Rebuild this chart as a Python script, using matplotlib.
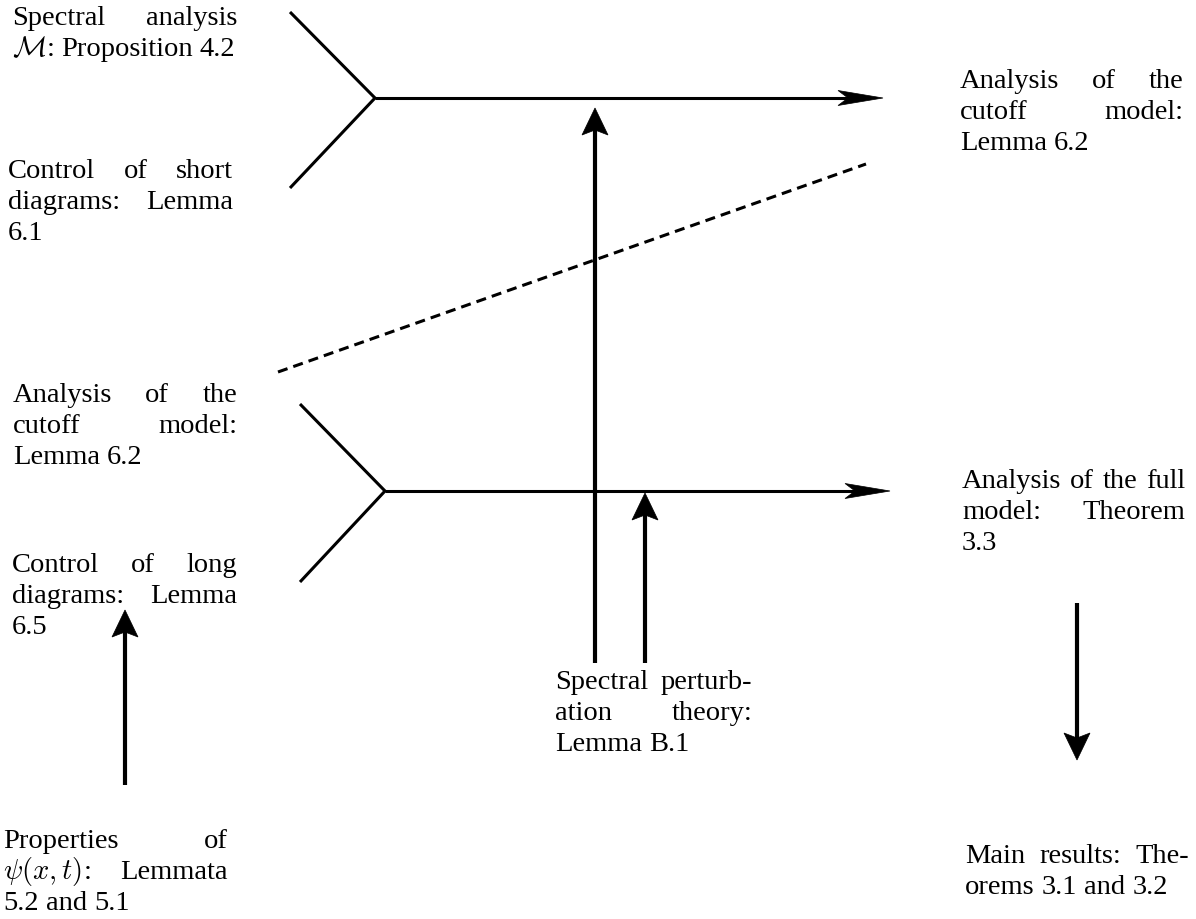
import matplotlib
matplotlib.use('Agg')
import matplotlib.pyplot as plt
from matplotlib.patches import Polygon

plt.rcParams['mathtext.fontset'] = 'cm'
FONT = 'Liberation Serif'
FS = 20.5

# ---------------- content ----------------
label_spectral = [["Spectral", "analysis"], [r"$\mathcal{M}$:", "Proposition", "4.2"]]
label_short = [["Control", "of", "short"], ["diagrams:", "Lemma"], ["6.1"]]
label_cutoff_left = [["Analysis", "of", "the"], ["cutoff", "model:"], ["Lemma", "6.2"]]
label_long = [["Control", "of", "long"], ["diagrams:", "Lemma"], ["6.5"]]
label_psi = [["Properties", "of"], [r"$\psi(x,t)$:", "Lemmata"], ["5.2", "and", "5.1"]]
label_cutoff_right = [["Analysis", "of", "the"], ["cutoff", "model:"], ["Lemma", "6.2"]]
label_full = [["Analysis", "of", "the", "full"], ["model:", "Theorem"], ["3.3"]]
label_main = [["Main", "results:", "The-"], ["orems", "3.1", "and", "3.2"]]
label_perturb = [["Spectral", "perturb-"], ["ation", "theory:"], ["Lemma", "B.1"]]

# ---------------- layout (pixels) ----------------
W, H = 1196, 919
text_layout = [
    (label_spectral, 12, 237, 25),
    (label_short, 8, 233, 178),
    (label_cutoff_left, 13, 237, 402),
    (label_long, 12, 237, 572),
    (label_psi, 3, 228, 848),
    (label_cutoff_right, 960, 1183, 88),
    (label_full, 962, 1185, 488),
    (label_main, 965, 1189, 863),
    (label_perturb, 555, 752, 689),
]
LINE_SKIP = 31

# Y-shaped merges: (upper end, junction, lower end, arrow tip x)
merges = [
    ((290, 12), (375, 98), (290, 188), 883),
    ((300, 404), (385, 491), (300, 582), 890),
]
# vertical arrows: (x, start y, tip y)
v_arrows = [
    (595, 663, 108),
    (645, 663, 493),
    (125, 785, 610),
    (1077, 603, 760),
]
dashed = ((278, 372), (866, 164))

fig = plt.figure(figsize=(W / 100, H / 100), dpi=100)
ax = fig.add_axes([0, 0, 1, 1])
ax.set_xlim(0, W)
ax.set_ylim(H, 0)
ax.axis('off')
renderer = fig.canvas.get_renderer()


def text_width(s):
    t = ax.text(0, 0, s, fontsize=FS, family=FONT)
    w = t.get_window_extent(renderer).width
    t.remove()
    return w


SPACE = text_width("x x") - text_width("xx")


def place_paragraph(lines, x0, x1, y0):
    for i, words in enumerate(lines):
        y = y0 + i * LINE_SKIP
        texts = [ax.text(0, y, w, fontsize=FS, family=FONT, va='baseline', ha='left')
                 for w in words]
        widths = [t.get_window_extent(renderer).width for t in texts]
        justify = i < len(lines) - 1 and len(words) > 1
        gap = (x1 - x0 - sum(widths)) / (len(words) - 1) if justify else SPACE
        x = x0
        for t, w in zip(texts, widths):
            t.set_x(x)
            x += w + gap


for lines, x0, x1, y0 in text_layout:
    place_paragraph(lines, x0, x1, y0)


def arrow_head(tip, direction, length, half_w, notch):
    tx, ty = tip
    dx, dy = direction
    px, py = -dy, dx
    bx, by = tx - dx * length, ty - dy * length
    pts = [
        (tx, ty),
        (bx + px * half_w, by + py * half_w),
        (tx - dx * (length - notch), ty - dy * (length - notch)),
        (bx - px * half_w, by - py * half_w),
    ]
    ax.add_patch(Polygon(pts, closed=True, facecolor='black', edgecolor='black',
                         linewidth=0.5, zorder=3))


LW_THIN = 2.2
LW_THICK = 3.0
for up, junc, low, tipx in merges:
    ax.plot([up[0], junc[0], low[0]], [up[1], junc[1], low[1]], color='black',
            lw=LW_THIN, solid_joinstyle='miter', solid_capstyle='butt')
    ax.plot([junc[0], tipx - 20], [junc[1], junc[1]], color='black', lw=LW_THIN,
            solid_capstyle='butt')
    arrow_head((tipx, junc[1]), (1, 0), 45, 7.5, 10)

for x, y_start, y_tip in v_arrows:
    d = 1 if y_tip > y_start else -1
    ax.plot([x, x], [y_start, y_tip - d * 15], color='black', lw=LW_THICK,
            solid_capstyle='butt')
    arrow_head((x, y_tip), (0, d), 27, 13, 5)

(xa, ya), (xb, yb) = dashed
ax.plot([xa, xb], [ya, yb], color='black', lw=LW_THIN, linestyle=(0, (3.3, 2.0)),
        dash_capstyle='butt')

fig.savefig('out.png', dpi=100, facecolor='white')
